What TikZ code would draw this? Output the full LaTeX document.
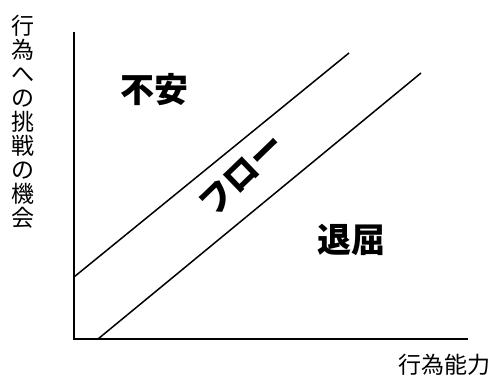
\documentclass[tikz,border=0pt]{standalone}
\usepackage{fontspec}
\newfontfamily\cjk{Noto Sans CJK JP}
\begin{document}
\begin{tikzpicture}[x=1pt,y=-1pt,
  ax/.style={line width=1.6pt},
  dl/.style={line width=1.5pt},
  lbl/.style={font=\cjk\fontsize{23}{24}\selectfont, inner sep=0pt},
  big/.style={font=\cjk\bfseries\fontsize{34}{36}\selectfont, inner sep=0pt}]
\useasboundingbox (0,0) rectangle (493,379);
\coordinate (O) at (74,339);
\coordinate (Ytop) at (74,32);
\coordinate (Xend) at (468,339);
\coordinate (A1) at (74,277);
\coordinate (A2) at (349,53);
\coordinate (B1) at (98,339);
\coordinate (B2) at (421,73);
\draw[ax] (Ytop) -- (O) -- (Xend);
\draw[dl] (A1) -- (A2);
\draw[dl] (B1) -- (B2);
\node[lbl, align=center] (ylab) at (23,122) {行\\為\\へ\\の\\挑\\戦\\の\\機\\会};
\node[lbl] (xlab) at (444,365) {行為能力};
\node[big] (anx) at (154,90) {不安};
\node[big] (bor) at (351,240) {退屈};
\node[big, rotate=44] (flow) at (242,175) {フロー};
\end{tikzpicture}
\end{document}
